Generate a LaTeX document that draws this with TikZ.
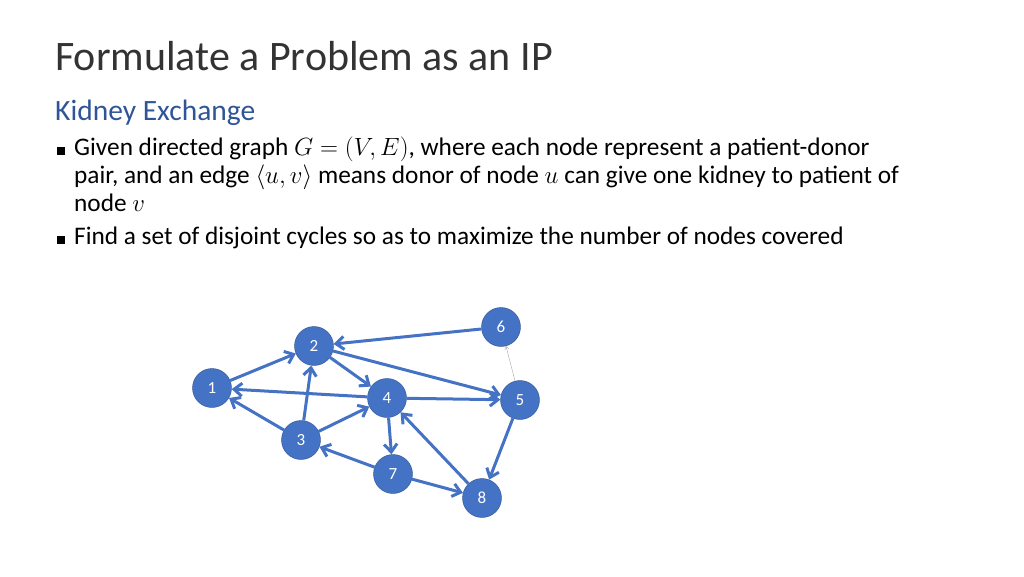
\documentclass[tikz,border=0pt]{standalone}
\usepackage{amsmath}
\usepackage{fontspec}
\setmainfont{Carlito}
\usetikzlibrary{arrows.meta}
\definecolor{accent}{RGB}{68,114,196}
\definecolor{rim}{RGB}{47,82,143}
\definecolor{heading}{RGB}{47,85,151}
\begin{document}
\begin{tikzpicture}[
    x=1pt, y=-1pt,
    pair/.style={
        circle,
        draw=rim,
        fill=accent,
        minimum size=39pt,
        inner sep=0pt,
        text=white,
        font=\fontsize{17}{19}\selectfont
    },
    link/.style={
        draw=accent,
        line width=3pt,
        -{Straight Barb[length=8pt,width=13pt]}
    },
    bullet/.style={
        anchor=base west,
        font=\fontsize{25.3}{30}\selectfont,
        inner sep=0pt
    }
  ]
  \useasboundingbox (0,0) rectangle (1024,576);
  % Title and text
  \node [anchor=base west, inner sep=0pt, font=\fontsize{42}{48}\selectfont, text=black!80] (title) at (55,70) {Formulate a Problem as an IP};
  \node [anchor=base west, inner sep=0pt, font=\fontsize{29.5}{34}\selectfont, text=heading] (sub) at (55,120) {Kidney Exchange};
  \node [bullet] (m1) at (57,155) {\rule{8pt}{8pt}};
  \node [bullet] (b1) at (74,155) {Given directed graph $G=(V,E)$, where each node represent a patient-donor};
  \node [bullet] (b2) at (74,183) {pair, and an edge $\langle u,v\rangle$ means donor of node $u$ can give one kidney to patient of};
  \node [bullet] (b3) at (74,211) {node $v$};
  \node [bullet] (m2) at (57,244) {\rule{8pt}{8pt}};
  \node [bullet] (b4) at (74,244) {Find a set of disjoint cycles so as to maximize the number of nodes covered};

  % The graph
  \node [pair] (n1) at (212,388) {1};
  \node [pair] (n2) at (314,346) {2};
  \node [pair] (n3) at (301,440) {3};
  \node [pair] (n4) at (387,398) {4};
  \node [pair] (n5) at (520,400) {5};
  \node [pair] (n6) at (501,327) {6};
  \node [pair] (n7) at (393,474) {7};
  \node [pair] (n8) at (482,498) {8};

  \draw [link] (n1) -- (n2);
  \draw [link] (n6) -- (n2);
  \draw [link] (n2) -- (n4);
  \draw [link] (n2) -- (n5);
  \draw [link] (n4) -- (n1);
  \draw [link] (n4) -- (n5);
  \draw [link] (n3) -- (n1);
  \draw [link] (n3) -- (n2);
  \draw [link] (n3) -- (n4);
  \draw [link] (n4) -- (n7);
  \draw [link] (n7) -- (n3);
  \draw [link] (n7) -- (n8);
  \draw [link] (n8) -- (n4);
  \draw [link] (n5) -- (n8);
  \draw [draw=gray!70, line width=0.4pt, -{Straight Barb[length=3pt,width=4pt]}] (n5) -- (n6);
\end{tikzpicture}
\end{document}
